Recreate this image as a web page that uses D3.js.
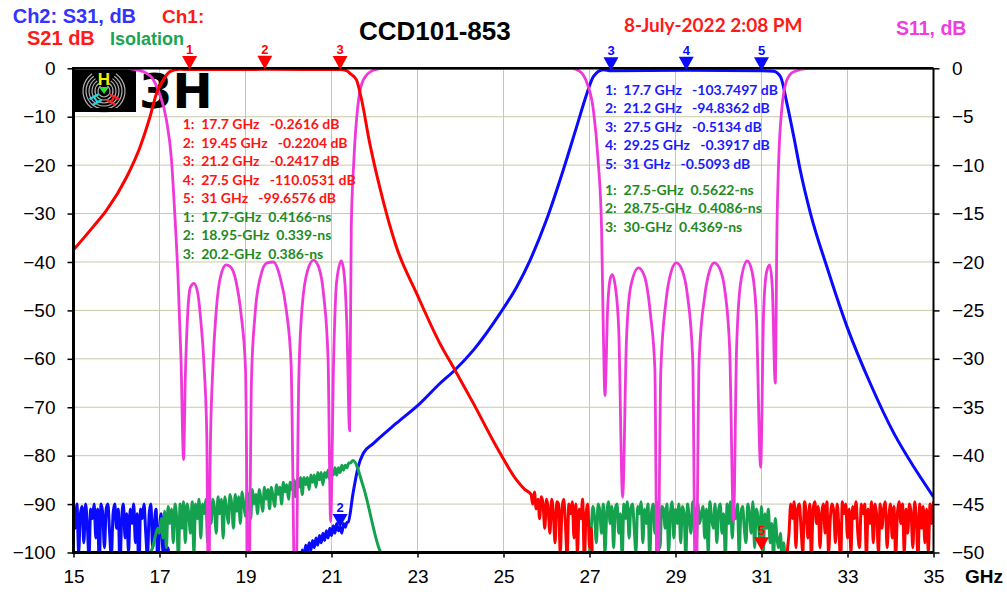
<!DOCTYPE html>
<html>
<head>
<meta charset="utf-8">
<script src="https://cdn.jsdelivr.net/npm/d3@7"></script>
<style>
body { margin: 0; background: #fff; }
svg { display: block; }
text { font-family: "Liberation Sans", Arial, sans-serif; }
</style>
</head>
<body>
<div id="chart"></div>
<script>
// axes
let xTicks = [15, 17, 19, 21, 23, 25, 27, 29, 31, 33, 35];
let leftTicks = [0, -10, -20, -30, -40, -50, -60, -70, -80, -90, -100];
let rightTicks = [0, -5, -10, -15, -20, -25, -30, -35, -40, -45, -50];

// Ch1 S21 (dB, left axis) - smooth skirt [GHz, dB]
let s21Skirt = [[15, -37.5], [15.46, -32.7], [15.77, -29.3], [16.24, -22.4], [16.55, -16.2], [16.78, -10],
  [16.93, -5.2], [17.09, -2.4], [17.24, -0.7], [17.47, -0.2], [17.7, -0.26], [19.45, -0.22], [21.2, -0.24],
  [21.35, -0.5], [21.45, -1.2], [21.58, -2.4], [21.7, -6.5], [21.89, -15.5], [22.12, -24.5], [22.51, -36.9],
  [22.98, -46.5], [23.52, -56.8], [23.87, -62.3], [24.3, -69.2], [24.84, -78.2], [25.31, -85.1], [25.5, -87]];
// S21 noise floor, sweep 25.64 GHz step 0.04
let s21Noise1 = [-88, -90, -87.5, -91, -89, -93, -88.5, -90, -95, -89, -91, -96, -89, -92, -98, -89.5, -90, -100,
  -91, -89, -94, -101, -90, -92, -89.5, -97, -90, -100, -91, -93, -89, -102, -92, -90, -99, -95];
// S21 noise floor, sweep 31.60 GHz step 0.04
let s21Noise2 = [-100, -96, -90, -93, -89.5, -99, -91, -90, -95, -100, -89.5, -92, -97, -90, -101, -91, -89.5, -94, -90.5, -99,
  -92, -90, -96, -89.5, -100, -93, -90, -91.5, -98, -90, -95, -102, -89.5, -92, -90, -97, -91, -100, -90.5, -93,
  -89.5, -96, -99, -90, -92, -90, -101, -91, -94, -89.5, -98, -90, -92.5, -100, -90, -95, -91, -89.5, -99, -93,
  -90, -97, -90.5, -101, -92, -89.5, -94, -90, -100, -91, -96, -90, -92, -99, -89.5, -93, -101, -90, -95, -90.5,
  -98, -91, -100, -90, -94, -89.5];

// Ch2 S31 (dB, left axis)
// noise floor, sweep 15.00 GHz step 0.04
let s31Noise = [-91, -95, -90, -100, -92, -90.5, -98, -90, -94, -101, -91, -93, -90, -97, -91, -103, -90, -92, -99, -91,
  -90, -96, -101, -92, -90, -95, -91, -103, -93, -90, -97, -92, -100, -91, -94, -90, -98, -92, -105, -91,
  -93, -90, -96, -101, -92, -90, -99, -94, -91, -103, -95, -92, -100, -97, -104, -99, -106, -108];
// rising edge, sweep 20.20 GHz step 0.04
let s31Rise = [-103, -100.5, -102, -99.5, -101, -98.5, -100, -98, -99.5, -97.5, -99, -97, -98.5, -96.5, -98, -96,
  -97.5, -95.5, -97, -95, -96.5, -94.5, -96, -94, -95.5, -94.8, -96, -94, -94.8, -93.8];
let s31Band = [[21.39, -93.7], [21.5, -87.8], [21.62, -82.3], [21.74, -79.5], [21.97, -77.5], [22.51, -73.3],
  [23.06, -69.2], [23.52, -65.1], [23.87, -62.3], [24.3, -58.2], [24.92, -50.6], [25.31, -45.1], [25.62, -39.6],
  [26, -31.3], [26.39, -21], [26.7, -12.1], [26.94, -5.2], [27.09, -1.7], [27.32, -0.3], [27.5, -0.51],
  [29.25, -0.39], [31, -0.51], [31.28, -0.6], [31.44, -1.7], [31.59, -7.2], [31.75, -14.1], [31.9, -21],
  [32.14, -30], [32.52, -41], [32.99, -53.4], [33.53, -65.1], [34.08, -75.4], [34.54, -82.3], [35, -88.5]];

// Isolation (dB, left axis)
// sweep 16.80 GHz step 0.04
let isoLow = [-100, -99, -97.5, -96, -95, -96, -93, -97, -91.5, -99, -90.5, -94, -91, -98, -90, -93, -101, -90, -95, -89.5,
  -98, -90, -92, -96, -89.5, -100, -90, -93, -89, -97, -90, -92, -89, -98, -89.5, -94, -89, -91, -96, -88.5,
  -92, -89, -97, -88.5, -91, -94, -88, -90, -95, -88, -91.5, -88.5, -94, -87.5, -90, -92.5, -87.5, -89.5, -93, -87,
  -90, -88, -92, -87, -89, -91.5, -86.5, -89, -87, -91, -86.5, -88.5, -90.5, -86, -88, -86.5, -90, -85.5, -87.5, -86,
  -89, -85.5, -87, -85, -88.5, -85, -86.5, -84.5, -88, -84.5, -86, -84.5, -87, -84, -85.5, -84, -86.5, -83.5, -85, -83.5,
  -86, -83.5, -84.5, -83, -85, -83, -84, -82.5, -84, -82.5, -83.5, -82, -83, -82, -82.5, -81.5, -81.5];
let isoTail = [[21.5, -81], [21.74, -86.4], [22.12, -99.5], [22.2, -101]];
// sweep 27.00 GHz step 0.04
let isoHigh = [-100, -95, -90.5, -93, -98, -90, -91.5, -96, -90, -100, -92, -89.5, -94, -90.5, -99, -91, -90, -96, -92, -101,
  -90, -93, -89.5, -97, -91, -90, -95, -100, -90.5, -92, -89.5, -98, -91, -94, -90, -101, -92, -90, -96, -89.5,
  -93, -99, -90.5, -91, -95, -90, -100, -92, -89.5, -97, -91, -94, -90, -98, -90.5, -92, -101, -90, -93, -96,
  -89.5, -91, -99, -90, -94, -92, -90.5, -97, -91, -100, -89.5, -93, -95, -90, -98, -91.5, -90, -96, -92, -101,
  -90, -94, -89.5, -97, -91, -93, -90, -100, -92, -90.5, -95, -98, -90, -92, -96, -89.5, -99, -91, -93, -97,
  -90.5, -100, -92, -95, -91, -98, -94, -101, -93, -97, -99, -96, -102, -98, -105, -103, -108];

// S11 (dB, right axis) [GHz, dB]
let s11 = [[15, 0], [16.2, 0], [16.45, -0.15], [16.63, -0.35], [16.86, -1.2], [17, -2.6], [17.16, -5.3], [17.28, -9.5],
  [17.35, -14.6], [17.43, -21.5], [17.5, -30], [17.56, -40.4], [17.6, -32], [17.66, -25], [17.72, -22.6], [17.8, -22.2],
  [17.88, -23], [17.96, -26], [18.04, -31], [18.1, -38], [18.14, -58], [18.18, -40], [18.24, -31], [18.32, -25],
  [18.42, -21.5], [18.55, -20.3], [18.65, -20.5], [18.78, -22], [18.9, -25.5], [19, -31], [19.07, -58], [19.14, -32],
  [19.22, -25.5], [19.35, -21.5], [19.5, -20.1], [19.65, -20], [19.8, -21.5], [19.95, -25], [20.06, -30.5], [20.16, -58],
  [20.24, -32], [20.32, -24.5], [20.45, -20.8], [20.58, -19.8], [20.7, -20.5], [20.82, -23.5], [20.92, -30], [20.98, -46.8],
  [21.05, -30], [21.12, -22], [21.23, -19.9], [21.3, -21.5], [21.36, -27], [21.42, -37.4], [21.46, -16.4], [21.52, -9.5],
  [21.62, -3.6], [21.74, -1.2], [21.97, -0.2], [22.2, 0], [26.6, 0], [26.8, -0.4], [26.94, -1.5], [27.09, -4.3],
  [27.2, -9.5], [27.28, -16.4], [27.32, -26.7], [27.36, -33.8], [27.42, -25], [27.48, -21.8], [27.53, -21.3], [27.6, -22.5],
  [27.68, -27], [27.77, -44.3], [27.86, -28], [27.96, -22.5], [28.14, -20.6], [28.28, -21.5], [28.42, -25.5], [28.52, -31],
  [28.58, -58], [28.66, -31], [28.78, -24], [28.9, -21], [29.02, -20.1], [29.15, -20.8], [29.28, -23.5], [29.4, -30],
  [29.47, -58], [29.55, -30], [29.68, -23.5], [29.8, -20.8], [29.9, -20.1], [30.02, -20.6], [30.15, -23], [30.26, -29],
  [30.35, -46.8], [30.42, -29], [30.52, -22], [30.67, -19.9], [30.78, -21], [30.88, -25.5], [30.98, -41.2], [31.05, -25],
  [31.12, -21], [31.19, -20.3], [31.25, -22.5], [31.32, -32.5], [31.36, -16.4], [31.4, -9.5], [31.47, -4.3], [31.59, -1.2],
  [31.75, -0.35], [32.1, 0], [35, 0]];

// markers
let ch1MarkFreq = [17.7, 19.45, 21.2, 27.5, 31];
let ch1MarkDb = [-0.2616, -0.2204, -0.2417, -110.0531, -99.6576];
let ch2MarkFreq = [17.7, 21.2, 27.5, 29.25, 31];
let ch2MarkDb = [-103.7497, -94.8362, -0.5134, -0.3917, -0.5093];
let delayLowFreq = ["17.7", "18.95", "20.2"];
let delayLowNs = ["0.4166", "0.339", "0.386"];
let delayHighFreq = ["27.5", "28.75", "30"];
let delayHighNs = ["0.5622", "0.4086", "0.4369"];

let RED = "#ff0000", BLUE = "#0a0aff", GREEN = "#14a24e", PINK = "#ee38da";

let sweep = function(start, step, vals) {
    return vals.map(function(v, i) { return [start + i * step, v]; });
}

let s21 = s21Skirt.concat(sweep(25.64, 0.04, s21Noise1), [[27.1, -110], [31.55, -110]], sweep(31.6, 0.04, s21Noise2));
let s31 = sweep(15, 0.04, s31Noise).concat([[17.32, -110], [20.15, -110]], sweep(20.2, 0.04, s31Rise), s31Band);
let iso = [[15, -110], [16.76, -110]].concat(sweep(16.8, 0.04, isoLow), isoTail, [[22.3, -110], [26.95, -110]], sweep(27, 0.04, isoHigh), [[31.7, -110], [35, -110]]);

let W = 1007, H = 598;
let mLeft = 73.5, mRight = 933.5, mTop = 68.3, mBottom = 552.5;

let svg = d3.select("#chart").append("svg").attr("width", W).attr("height", H);

let x = d3.scaleLinear().domain([15, 35]).range([mLeft, mRight]);
let yL = d3.scaleLinear().domain([-100, 0]).range([mBottom, mTop]);
let yR = d3.scaleLinear().domain([-50, 0]).range([mBottom, mTop]);

// grid
svg.append("g").selectAll("line").data(xTicks.slice(1, -1)).enter().append("line")
    .attr("x1", d => x(d)).attr("x2", d => x(d)).attr("y1", mTop).attr("y2", mBottom)
    .attr("stroke", "#c9c9a6").attr("stroke-width", 1);
svg.append("g").selectAll("line").data(leftTicks.slice(1, -1)).enter().append("line")
    .attr("x1", mLeft).attr("x2", mRight).attr("y1", d => yL(d)).attr("y2", d => yL(d))
    .attr("stroke", "#c9c9a6").attr("stroke-width", 1);

// logo
let logo = svg.append("g");
logo.append("rect").attr("x", 74).attr("y", 69).attr("width", 60).attr("height", 41).attr("fill", "#000");
let ring = d3.arc().startAngle(0.6).endAngle(2 * Math.PI - 0.6);
[6, 9, 12, 15, 18, 21].forEach(function(r) {
    logo.append("path").attr("transform", "translate(104,91)")
        .attr("d", ring.innerRadius(r - 0.6).outerRadius(r + 0.6)())
        .attr("fill", "#b0b0b0");
});
logo.append("rect").attr("x", 74).attr("y", 69).attr("width", 60).attr("height", 41)
    .attr("fill", "none").attr("stroke", "#000").attr("stroke-width", 4);
logo.append("text").attr("x", 104).attr("y", 85).attr("text-anchor", "middle")
    .style("font-size", "17px").style("font-weight", "bold").attr("fill", "#f2f200").text("H");
logo.append("text").attr("transform", "translate(91,102) rotate(62)").attr("text-anchor", "middle")
    .style("font-size", "15px").style("font-weight", "bold").attr("fill", "#22d8e0").text("H");
logo.append("text").attr("transform", "translate(117,102) rotate(-62)").attr("text-anchor", "middle")
    .style("font-size", "15px").style("font-weight", "bold").attr("fill", "#ff2020").text("H");
logo.append("path").attr("d", "M99,87 L109,87 L104,94 Z").attr("fill", "#30e030");
svg.append("text").attr("x", 139).attr("y", 108).style("font-family", "'DejaVu Sans', sans-serif")
    .style("font-size", "48px").style("font-weight", "bold").attr("fill", "#000").text("3H");

// traces
svg.append("clipPath").attr("id", "plotclip").append("rect")
    .attr("x", mLeft).attr("y", mTop - 8).attr("width", mRight - mLeft).attr("height", mBottom - mTop + 8);
let plot = svg.append("g").attr("clip-path", "url(#plotclip)");
let lineL = d3.line().x(d => x(d[0])).y(d => yL(d[1])).curve(d3.curveMonotoneX);
let lineR = d3.line().x(d => x(d[0])).y(d => yR(d[1])).curve(d3.curveMonotoneX);

plot.append("path").datum(s31).attr("d", lineL).attr("fill", "none").attr("stroke", BLUE).attr("stroke-width", 3);
plot.append("path").datum(iso).attr("d", lineL).attr("fill", "none").attr("stroke", GREEN).attr("stroke-width", 3);
plot.append("path").datum(s11).attr("d", lineR).attr("fill", "none").attr("stroke", PINK).attr("stroke-width", 2.8);
plot.append("path").datum(s21).attr("d", lineL).attr("fill", "none").attr("stroke", RED).attr("stroke-width", 3);

// axes
let gl = svg.append("g").attr("transform", "translate(" + mLeft + ",0)")
    .call(d3.axisLeft(yL).tickValues(leftTicks).tickSize(6).tickPadding(12));
let gr = svg.append("g").attr("transform", "translate(" + mRight + ",0)")
    .call(d3.axisRight(yR).tickValues(rightTicks).tickSize(6).tickPadding(12.5));
let gx = svg.append("g").attr("transform", "translate(0," + mBottom + ")")
    .call(d3.axisBottom(x).tickValues(xTicks).tickSize(5).tickPadding(12));
[gl, gr, gx].forEach(function(g) {
    g.select(".domain").remove();
    g.selectAll("line").attr("stroke", "#000").attr("stroke-width", 1.5);
    g.selectAll("text").style("font-family", "'Liberation Sans', Arial, sans-serif").style("font-size", "19px").attr("fill", "#000");
});
svg.append("line").attr("x1", mLeft).attr("x2", mRight).attr("y1", mTop).attr("y2", mTop).attr("stroke", "#000").attr("stroke-width", 2.5);
svg.append("line").attr("x1", mRight).attr("x2", mRight).attr("y1", mTop).attr("y2", mBottom).attr("stroke", "#000").attr("stroke-width", 2);
svg.append("line").attr("x1", mLeft).attr("x2", mLeft).attr("y1", mTop - 1).attr("y2", mBottom + 1.5).attr("stroke", "#000").attr("stroke-width", 3);
svg.append("line").attr("x1", mLeft - 1.5).attr("x2", mRight).attr("y1", mBottom).attr("y2", mBottom).attr("stroke", "#000").attr("stroke-width", 3);

// markers
let drawMarkers = function(freqs, dbs, color) {
    freqs.forEach(function(f, i) {
        let v = dbs[i];
        if (v < -100 || v > 0) return;
        let px = x(f), py = yL(v);
        svg.append("path").attr("d", "M" + px + "," + py + " l-7.5,-13.5 l15,0 Z").attr("fill", color);
        svg.append("text").attr("x", px).attr("y", py - 15.5).attr("text-anchor", "middle")
            .style("font-size", "13px").style("font-weight", "bold").attr("fill", color).text(i + 1);
    });
}
drawMarkers(ch1MarkFreq, ch1MarkDb, RED);
drawMarkers(ch2MarkFreq, ch2MarkDb, BLUE);

// marker readouts
let readout = function(x0, y0, step, lines) {
    lines.forEach(function(l, i) {
        svg.append("text").attr("x", x0).attr("y", y0 + i * step)
            .style("font-family", "Lato, sans-serif").style("font-size", "14px").style("font-weight", "bold")
            .style("white-space", "pre").attr("fill", l.c).text(l.t);
    });
}
let ch1Lines = ch1MarkFreq.map((f, i) => ({c: "#ff1414", t: (i + 1) + ":  " + f + " GHz   " + ch1MarkDb[i] + " dB"}))
    .concat(delayLowFreq.map((f, i) => ({c: "#1e8a1e", t: (i + 1) + ":  " + f + "-GHz  " + delayLowNs[i] + "-ns"})));
readout(182.7, 129, 18.5, ch1Lines);
let ch2Lines = ch2MarkFreq.map((f, i) => ({c: "#1a1aff", t: (i + 1) + ":  " + f + " GHz   " + ch2MarkDb[i] + " dB"}));
readout(605, 95, 18.4, ch2Lines);
let dLines = delayHighFreq.map((f, i) => ({c: "#1e8a1e", t: (i + 1) + ":  " + f + "-GHz  " + delayHighNs[i] + "-ns"}));
readout(605, 195, 18.4, dLines);

// titles
let label = function(tx, ty, str, color, size, fam) {
    svg.append("text").attr("x", tx).attr("y", ty).style("font-size", size + "px").style("font-weight", "bold")
        .style("font-family", fam || "'Liberation Sans', Arial, sans-serif").attr("fill", color).text(str);
}
label(12.7, 22.7, "Ch2: S31, dB", "#3333ff", 20);
label(162, 22.7, "Ch1:", "#ff1a1a", 19);
label(27, 45, "S21 dB", "#ff1a1a", 20);
label(110, 45, "Isolation", "#1aa552", 18);
label(359, 40, "CCD101-853", "#000", 26);
label(624, 31.7, "8-July-2022 2:08 PM", "#ff1a1a", 19, "Lato, sans-serif");
label(896, 34.7, "S11, dB", "#ee3ee0", 19.5);
label(965, 583, "GHz", "#000", 19);
</script>
</body>
</html>
